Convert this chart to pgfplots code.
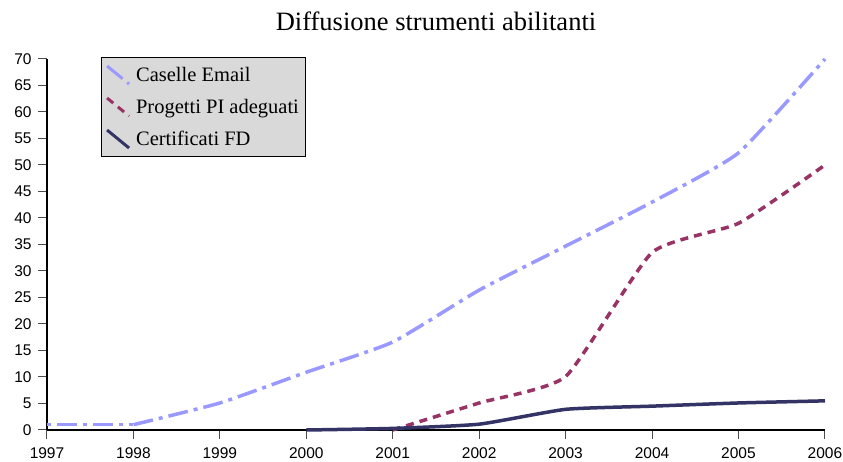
\documentclass[border=0pt]{standalone}
\usepackage{pgfplots}
\pgfplotsset{compat=1.18}
\usepackage{fontspec}
\setmainfont{Liberation Serif}
\newfontfamily\arial{Liberation Sans}
\definecolor{cemail}{HTML}{9999FF}
\definecolor{cpi}{HTML}{993366}
\definecolor{ccert}{HTML}{333366}
\begin{document}
\begin{tikzpicture}[x=1pt,y=1pt]
\begin{axis}[
  at={(0,0)}, anchor=south west,
  scale only axis, width=778pt, height=371pt,
  xmin=1997, xmax=2006, ymin=0, ymax=70,
  xtick={1997,...,2006}, ytick={0,5,...,70},
  xticklabel style={/pgf/number format/1000 sep={}},
  /pgf/number format/assume math mode=true,
  ticklabel style={font=\arial\fontsize{15.5}{15.5}\selectfont},
  axis x line*=bottom, axis y line*=left,
  axis line style={black, line width=1.3pt, -},
  tick style={black!70, line width=1pt},
  tick align=outside, major tick length=9pt,
  xticklabel shift=5pt, yticklabel shift=3pt,
  title={Diffusione strumenti abilitanti},
  title style={font=\fontsize{26.5}{26.5}\selectfont, anchor=base, at={(0.5,1)}, yshift=22pt},
  legend style={at={(0.069,1.005)}, anchor=north west, fill=black!15, draw=black, line width=0.8pt,
     font=\fontsize{20.5}{24}\selectfont, inner xsep=4pt, inner ysep=7pt, row sep=11pt},
  legend cell align=left,
  legend image code/.code={\draw[#1, line width=3pt] (2pt,9pt) -- (24pt,-9pt); \path[draw=none, fill=none] (0pt,0pt) rectangle (29pt,0.1pt);},
  clip=false,
]
\addplot[cemail, line width=3.5pt, smooth, tension=0.3, dash pattern=on 20pt off 6pt on 4pt off 6pt] coordinates {
 (1998,1) (1999,5.1) (2000,10.9) (2001,16.6) (2002,26.4) (2003,34.7) (2004,43) (2005,52.3) (2006,70)};
\addlegendentry{Caselle Email}
\addplot[cpi, line width=3.5pt, smooth, tension=0.3, dash pattern=on 8pt off 6pt] coordinates {
 (2001,0) (2002,5.1) (2003,10.1) (2004,33.5) (2005,39) (2006,50)};
\addlegendentry{Progetti PI adeguati}
\addplot[ccert, line width=3.5pt, smooth, tension=0.3] coordinates {
 (2000,0) (2001,0.3) (2002,1.1) (2003,3.9) (2004,4.5) (2005,5.1) (2006,5.5)};
\addlegendentry{Certificati FD}
\addplot[cemail, line width=3.5pt, dash pattern=on 4pt off 6pt on 20pt off 6pt, forget plot] coordinates {
 (1997,1) (1998,1)};
\end{axis}
\pgfresetboundingbox
\useasboundingbox (-47pt,-32pt) rectangle (796pt,430pt);
\end{tikzpicture}
\end{document}
